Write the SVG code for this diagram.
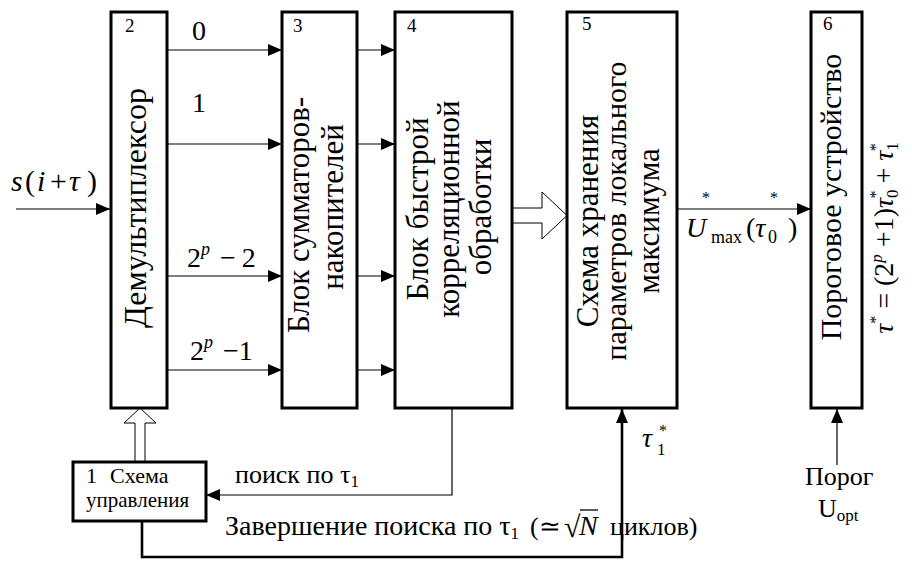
<svg xmlns="http://www.w3.org/2000/svg" width="912" height="561" viewBox="0 0 912 561" font-family="Liberation Serif, Times New Roman, serif">
<style>
text{font-family:'Liberation Serif','Times New Roman',serif;fill:#000}
.box{fill:#fff;stroke:#000;stroke-width:3}
.ln{fill:none;stroke:#000;stroke-width:1.2}
.thick{fill:none;stroke:#000;stroke-width:2.6}
.hollow{fill:#fff;stroke:#000;stroke-width:1}
.blk{font-size:31px}
.num{font-size:19px}
.lbl{font-size:28px}
.i{font-style:italic}
</style>
<defs>
<marker id="ah" markerUnits="userSpaceOnUse" markerWidth="16" markerHeight="12" refX="14" refY="6" orient="auto">
<path d="M0,0 L14,6 L0,12 Z" fill="#000"/>
</marker>
</defs>

<g id="connectors">
<line class="ln" x1="16" y1="209" x2="110" y2="209" marker-end="url(#ah)"/>
<line class="ln" x1="168" y1="50" x2="282" y2="50" marker-end="url(#ah)"/>
<line class="ln" x1="168" y1="144" x2="282" y2="144" marker-end="url(#ah)"/>
<line class="ln" x1="168" y1="276" x2="282" y2="276" marker-end="url(#ah)"/>
<line class="ln" x1="168" y1="370" x2="282" y2="370" marker-end="url(#ah)"/>
<line class="ln" x1="357" y1="50" x2="395" y2="50" marker-end="url(#ah)"/>
<line class="ln" x1="357" y1="144" x2="395" y2="144" marker-end="url(#ah)"/>
<line class="ln" x1="357" y1="276" x2="395" y2="276" marker-end="url(#ah)"/>
<line class="ln" x1="357" y1="370" x2="395" y2="370" marker-end="url(#ah)"/>
<polygon class="hollow" points="512,208 542,208 542,192 567,215.5 542,239 542,223 512,223"/>
<line class="ln" x1="677" y1="209" x2="811" y2="209" marker-end="url(#ah)"/>
<polygon class="hollow" points="135,462 135,423 124,423 140,408 156,423 145,423 145,462"/>
<polyline class="ln" points="452,408 452,495 206,495" marker-end="url(#ah)"/>
<polyline class="thick" points="142,521 142,557 622,557 622,409" marker-end="url(#ah)"/>
<line class="ln" x1="837" y1="465" x2="837" y2="409" marker-end="url(#ah)"/>
</g>

<g id="node2">
<rect class="box" x="111" y="12" width="56" height="396"/>
<text class="num" x="125" y="32">2</text>
<text class="blk" style="font-size:32px" text-anchor="middle" transform="translate(146,208) rotate(-90)">Демультиплексор</text>
</g>

<g id="node3">
<rect class="box" x="282" y="12" width="75" height="396"/>
<text class="num" x="293" y="32">3</text>
<text class="blk" text-anchor="middle" transform="translate(309,215) rotate(-90)">Блок сумматоров-</text>
<text class="blk" text-anchor="middle" transform="translate(343,207) rotate(-90)">накопителей</text>
</g>

<g id="node4">
<rect class="box" x="395" y="12" width="117" height="396"/>
<text class="num" x="407" y="32">4</text>
<text class="blk" text-anchor="middle" transform="translate(428,209) rotate(-90)">Блок быстрой</text>
<text class="blk" text-anchor="middle" transform="translate(459,209) rotate(-90)">корреляционной</text>
<text class="blk" text-anchor="middle" transform="translate(491,207) rotate(-90)">обработки</text>
</g>

<g id="node5">
<rect class="box" x="567" y="12" width="110" height="396"/>
<text class="num" x="582" y="30">5</text>
<text class="blk" text-anchor="middle" transform="translate(598,221) rotate(-90)">Схема хранения</text>
<text class="blk" style="font-size:30px" text-anchor="middle" transform="translate(626,211) rotate(-90)">параметров локального</text>
<text class="blk" text-anchor="middle" transform="translate(659,221) rotate(-90)">максимума</text>
</g>

<g id="node6">
<rect class="box" x="811" y="12" width="51" height="396"/>
<text class="num" x="823" y="30">6</text>
<text class="blk" style="font-size:30px" text-anchor="middle" transform="translate(841,197) rotate(-90)">Пороговое устройство</text>
</g>

<g id="node1">
<rect class="box" x="73" y="462" width="133" height="59"/>
<text style="font-size:22px" x="86" y="483">1</text>
<text style="font-size:22px" x="110" y="483">Схема</text>
<text style="font-size:21px" x="86" y="507">управления</text>
</g>

<g id="labels">
<text class="lbl" x="192" y="40">0</text>
<text class="lbl" x="192" y="112">1</text>
<text class="lbl" x="187" y="267">2<tspan class="i" font-size="18" dy="-12">p</tspan><tspan dy="12" dx="10">−</tspan><tspan dx="6">2</tspan></text>
<text class="lbl" x="190" y="360">2<tspan class="i" font-size="18" dy="-12">p</tspan><tspan dy="12" dx="10">−1</tspan></text>
<text style="font-size:30px" y="191"><tspan class="i" x="11">s</tspan><tspan x="25">(</tspan><tspan class="i" x="37">i</tspan><tspan x="50">+</tspan><tspan class="i" x="69">τ</tspan><tspan x="87">)</tspan></text>
<text class="lbl i" x="686" y="237">U</text>
<text style="font-size:16px" x="702" y="203">*</text>
<text style="font-size:18px" x="711" y="243">max</text>
<text class="lbl" x="746" y="237">(<tspan class="i">τ</tspan></text>
<text style="font-size:18px" x="768" y="243">0</text>
<text style="font-size:16px" x="770" y="203">*</text>
<text class="lbl" x="788" y="237">)</text>
<text style="font-size:26px" x="235" y="483">поиск по τ<tspan font-size="17" dy="4">1</tspan></text>
<text style="font-size:28px" x="225" y="535">Завершение поиска по τ<tspan font-size="17" dy="4">1</tspan></text>
<text style="font-size:26px" x="530" y="535">(≃</text>
<text style="font-size:30px" x="564" y="537">√</text>
<line x1="580" y1="510" x2="598" y2="510" stroke="#000" stroke-width="1.3"/>
<text class="lbl i" x="579" y="535">N</text>
<text style="font-size:26px" x="610" y="535">циклов)</text>
<text class="lbl i" x="642" y="447">τ</text>
<text style="font-size:17px" x="657" y="455">1</text>
<text style="font-size:16px" x="659" y="436">*</text>
<text style="font-size:26px" x="805" y="485">Порог</text>
<text style="font-size:26px" x="818" y="517">U<tspan font-size="17" dy="4">opt</tspan></text>
<text style="font-size:28px" text-anchor="middle" transform="translate(893,238) rotate(-90)"><tspan class="i">τ</tspan><tspan font-size="16" dy="-12">*</tspan><tspan dy="12"> = (2</tspan><tspan class="i" font-size="17" dy="-11">p</tspan><tspan dy="11"> +1)</tspan><tspan class="i">τ</tspan><tspan font-size="17" dy="5">0</tspan><tspan font-size="16" dx="-9" dy="-17">*</tspan><tspan dy="12"> + </tspan><tspan class="i">τ</tspan><tspan font-size="17" dy="5">1</tspan><tspan font-size="16" dx="-9" dy="-17">*</tspan></text>
</g>
</svg>
